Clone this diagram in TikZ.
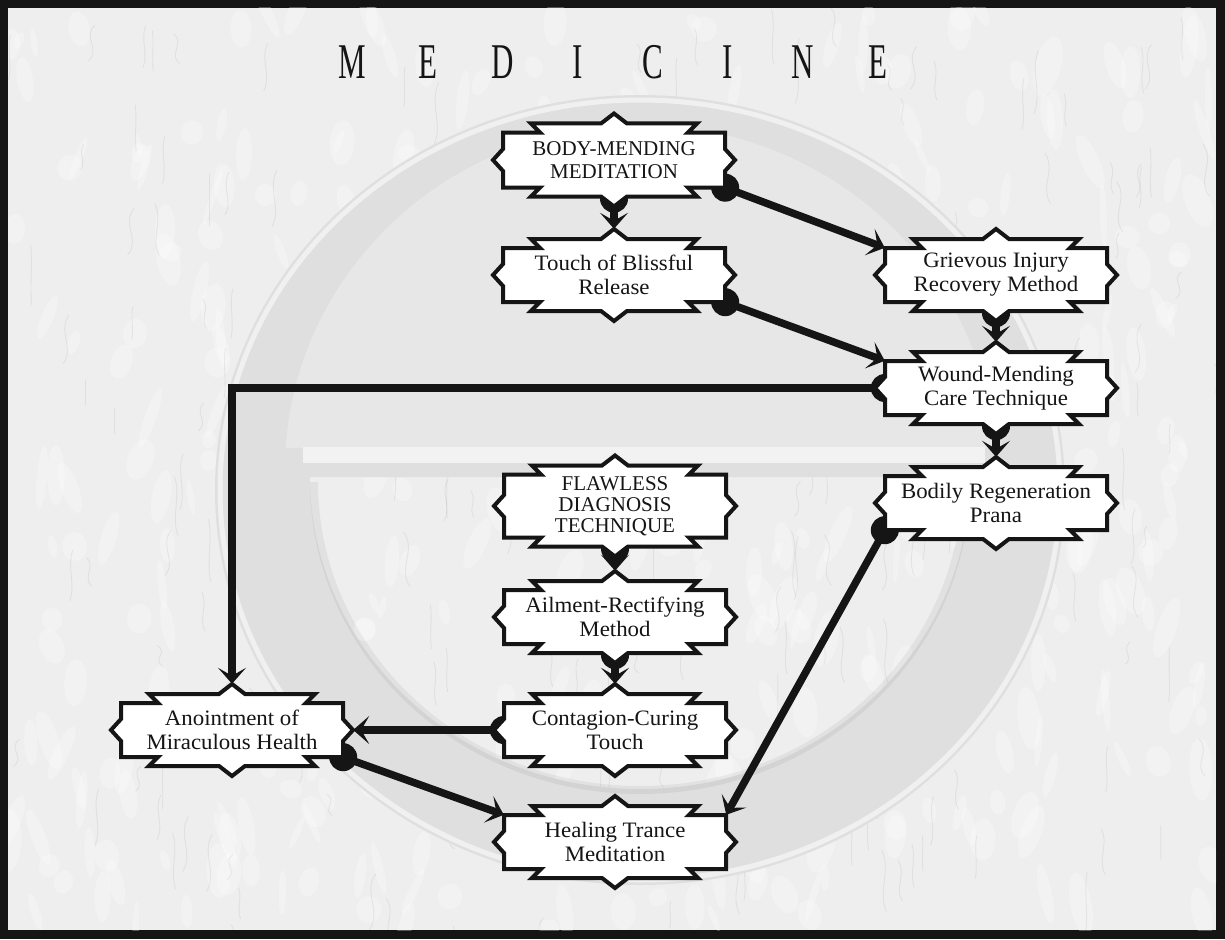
\documentclass[tikz,border=0pt]{standalone}
\usepackage{fontspec}
\setmainfont{Liberation Serif}
\newfontfamily\labelfont[FakeStretch=1.04]{Liberation Serif}
\newfontfamily\capsfont{Liberation Serif}
\newfontfamily\titlefont[FakeStretch=0.62]{Liberation Serif}
\usetikzlibrary{arrows.meta,calc}
\pgfdeclarelayer{paper}
\pgfdeclarelayer{links}
\pgfdeclarelayer{frames}
\pgfsetlayers{paper,links,frames,main}

\definecolor{paperbase}{HTML}{EEEEEE}
\definecolor{discgray}{HTML}{DFDFDF}
\definecolor{domegray}{HTML}{E7E7E7}
\definecolor{barlight}{HTML}{F2F2F2}
\definecolor{ink}{HTML}{151515}

\tikzset{
  frameline/.style={draw=ink, fill=white, line width=4pt, line join=miter},
  % ornamental label frame: body half-height #1, raised caps, side points
  pics/ornate/.style={code={
    \path[frameline]
      (-111,{-#1}) -- (-74,{-#1}) -- (-83,{-#1-9}) -- (-13,{-#1-9}) -- (0,{-#1-19})
      -- (13,{-#1-9}) -- (83,{-#1-9}) -- (74,{-#1}) -- (111,{-#1})
      -- (111,-11) -- (121,0) -- (111,11)
      -- (111,{#1}) -- (74,{#1}) -- (83,{#1+9}) -- (13,{#1+9}) -- (0,{#1+19})
      -- (-13,{#1+9}) -- (-83,{#1+9}) -- (-74,{#1}) -- (-111,{#1})
      -- (-111,11) -- (-121,0) -- (-111,-11) -- cycle;
  }},
  skill/.style={minimum width=222pt, minimum height=54pt, inner sep=0pt,
    align=center, text=ink,
    font=\labelfont\fontsize{22}{24}\selectfont},
  capskill/.style={skill, font=\capsfont\fontsize{21}{23}\selectfont},
  link/.style={draw=ink, line width=7.5pt,
    -{Stealth[length=16pt,width=28pt,inset=8pt]}},
  knob/.style={fill=ink},
}

\begin{document}
\begin{tikzpicture}[x=1pt,y=-1pt]
\useasboundingbox (0,0) rectangle (1225,939);

% ---------- paper, frame and embossed disc ----------
\begin{pgfonlayer}{paper}
  \fill[ink] (0,0) rectangle (1225,939);
  \fill[paperbase] (8,8) rectangle (1216,930);
  \begin{scope}
    \clip (8,8) rectangle (1216,930);
    \pgfmathsetseed{4217}
    \foreach \k in {1,...,420}{
      \pgfmathsetmacro{\px}{8+1208*rnd}
      \pgfmathsetmacro{\py}{8+922*rnd}
      \pgfmathsetmacro{\rw}{3+10*rnd}
      \pgfmathsetmacro{\rh}{8+24*rnd}
      \pgfmathsetmacro{\rot}{-25+50*rnd}
      \fill[white, opacity=0.28, rotate around={\rot:(\px,\py)}]
        (\px,\py) ellipse ({\rw} and {\rh});
    }
    \foreach \k in {1,...,220}{
      \pgfmathsetmacro{\px}{8+1208*rnd}
      \pgfmathsetmacro{\py}{8+922*rnd}
      \pgfmathsetmacro{\dx}{-14+28*rnd}
      \pgfmathsetmacro{\dy}{20+45*rnd}
      \draw[black, opacity=0.06, line width=0.9pt]
        (\px,\py) .. controls +(\dx,{\dy/3}) and +(-\dx,{-\dy/3}) .. +(\dx/2,\dy);
    }
  \end{scope}
  % ring with a half-round opening below the bar
  \fill[discgray, even odd rule]
    (640,490) ellipse (425 and 395)
    (970,477) arc[start angle=0, end angle=180, x radius=330, y radius=312] -- cycle;
  \begin{scope}
    \clip (200,80) rectangle (1080,447);
    \fill[domegray] (640,470) ellipse (355 and 345);
  \end{scope}
  \draw[white, opacity=0.55, line width=5pt] (640,490) ellipse (420 and 390);
  \draw[black, opacity=0.05, line width=8pt]
    (966,482) arc[start angle=0, end angle=180, x radius=326, y radius=308];
  \fill[barlight] (303,447) rectangle (985,463);
\end{pgfonlayer}

% ---------- title ----------
\node[text=ink] (title) at (615,62)
  {\titlefont\fontsize{50}{50}\selectfont
   \makebox[75pt]{M}\makebox[75pt]{E}\makebox[75pt]{D}\makebox[75pt]{I}%
   \makebox[75pt]{C}\makebox[75pt]{I}\makebox[75pt]{N}\makebox[75pt]{E}};

% ---------- skills ----------
\node[capskill, minimum height=55pt] (bm) at (614,160) {BODY-MENDING\\MEDITATION};
\node[skill] (tb) at (614,275) {Touch of Blissful\\Release};
\node[skill] (gi) at (996,275) {Grievous Injury\\Recovery Method};
\node[skill] (wm) at (996,388) {Wound-Mending\\Care Technique};
\node[skill] (br) at (996,503) {Bodily Regeneration\\Prana};
\node[capskill, minimum height=63pt, font=\capsfont\fontsize{21}{21}\selectfont]
  (fd) at (615,506) {FLAWLESS\\DIAGNOSIS\\TECHNIQUE};
\node[skill] (ar) at (615,617) {Ailment-Rectifying\\Method};
\node[skill] (cc) at (615,730) {Contagion-Curing\\Touch};
\node[skill] (ht) at (615,842) {Healing Trance\\Meditation};
\node[skill] (am) at (232,730) {Anointment of\\Miraculous Health};

\begin{pgfonlayer}{frames}
  \pic at (bm.center) {ornate=27.5};
  \pic at (tb.center) {ornate=27};
  \pic at (gi.center) {ornate=27};
  \pic at (wm.center) {ornate=27};
  \pic at (br.center) {ornate=27};
  \pic at (fd.center) {ornate=31.5};
  \pic at (ar.center) {ornate=27};
  \pic at (cc.center) {ornate=27};
  \pic at (ht.center) {ornate=27};
  \pic at (am.center) {ornate=27};
\end{pgfonlayer}

% ---------- connectors ----------
\begin{pgfonlayer}{links}
  % straight drops between stacked skills
  \foreach \a/\b in {bm/tb, gi/wm, wm/br, fd/ar, ar/cc}{
    \fill[knob] ($(\a.south)+(0,11)$) circle (14);
    \draw[link] ($(\a.south)+(0,11)$) -- ($(\b.north)+(0,-19)$);
  }
  % diagonal links from lower-right corners
  \fill[knob] (bm.south east) circle (14);
  \draw[link] (bm.south east) -- (gi.north west);
  \fill[knob] (tb.south east) circle (14);
  \draw[link] (tb.south east) -- (wm.north west);
  \fill[knob] (am.south east) circle (14);
  \draw[link] (am.south east) -- (ht.north west);
  % from the lower-left corner back down
  \fill[knob] (br.south west) circle (14);
  \draw[link] (br.south west) -- (ht.north east);
  % long elbow to the far left
  \fill[knob] (wm.west) circle (14);
  \draw[link] (wm.west) -| ($(am.north)+(0,-19)$);
  % sideways link
  \fill[knob] (cc.west) circle (14);
  \draw[link] (cc.west) -- ($(am.east)+(10,0)$);
\end{pgfonlayer}
\end{tikzpicture}
\end{document}
